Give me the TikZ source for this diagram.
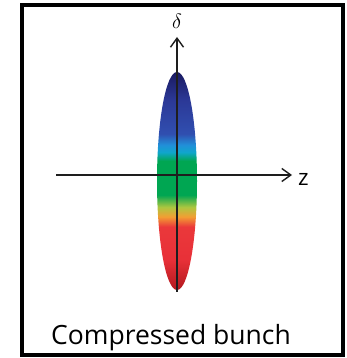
\documentclass[tikz,border=0pt]{standalone}
\usepackage{fontspec}
\setmainfont{Open Sans}
\usepackage{tikz}
\usetikzlibrary{arrows.meta}
\definecolor{framedark}{HTML}{000000}
\definecolor{axisdark}{HTML}{1E1E1E}
\newcommand{\figuretext}{\fontsize{22.5}{26}\selectfont}
\newcommand{\titletext}{\fontsize{26.5}{30}\selectfont}
% colours of the bunch, from head (top) to tail (bottom)
\pgfdeclareverticalshading{bunchshade}{100bp}{%
  rgb(0bp)=(0.70,0.10,0.12);
  rgb(25bp)=(0.70,0.10,0.12);
  rgb(32bp)=(0.91,0.19,0.22);
  rgb(39.5bp)=(0.92,0.22,0.23);
  rgb(41.8bp)=(0.95,0.62,0.20);
  rgb(44bp)=(0.68,0.78,0.25);
  rgb(46.8bp)=(0.00,0.65,0.32);
  rgb(54.6bp)=(0.00,0.65,0.32);
  rgb(56.6bp)=(0.06,0.65,0.80);
  rgb(58.3bp)=(0.13,0.56,0.85);
  rgb(60.8bp)=(0.19,0.31,0.69);
  rgb(68.6bp)=(0.17,0.22,0.59);
  rgb(75bp)=(0.10,0.10,0.38);
  rgb(100bp)=(0.10,0.10,0.38)}

\begin{document}
\begin{tikzpicture}[x=1pt,y=1pt,font=\figuretext]
\useasboundingbox (0,0) rectangle (346,358);
\draw[framedark,line width=4.5pt] (22,353) rectangle (343,3);
\path[shading=bunchshade] (177,177) ellipse [x radius=20,y radius=109];
\coordinate (dfoot) at (177,66);
\coordinate (dtip) at (177,321);
\coordinate (zfoot) at (56,183);
\coordinate (ztip) at (292,183);
\node[inner sep=0pt,anchor=south] (dlabel) at (177,329) {$\delta$};
\node[inner sep=0pt,anchor=west] (zlabel) at (298,179) {z};
\node[inner sep=0pt,anchor=base,font=\titletext] (title) at (171,13) {Compressed bunch};
\draw[-{Straight Barb[length=9pt,width=13pt]},line width=1.4pt,color=axisdark] (dfoot) -- (dtip);
\draw[-{Straight Barb[length=9pt,width=13pt]},line width=1.4pt,color=axisdark] (zfoot) -- (ztip);
\end{tikzpicture}
\end{document}
